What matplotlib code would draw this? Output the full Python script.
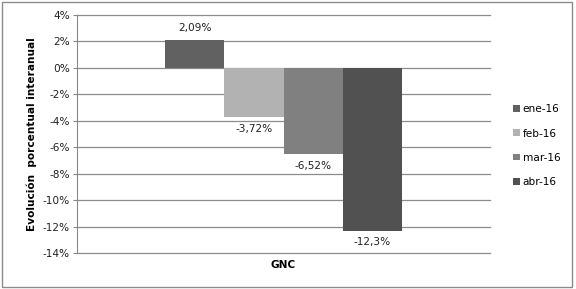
import matplotlib.pyplot as plt
from matplotlib.patches import Rectangle

series = ['ene-16', 'feb-16', 'mar-16', 'abr-16']
values = [2.09, -3.72, -6.52, -12.3]
value_labels = ['2,09%', '-3,72%', '-6,52%', '-12,3%']
colors = ['#616161', '#b2b2b2', '#808080', '#515151']
category = 'GNC'
yticks = [4, 2, 0, -2, -4, -6, -8, -10, -12, -14]

plt.rcParams['font.family'] = ['DejaVu Sans']
fig = plt.figure(figsize=(5.76, 2.89), dpi=100)
ax = fig.add_axes([77 / 576, 1 - 253 / 289, 413 / 576, 238 / 289])

positions = [-1.5, -0.5, 0.5, 1.5]
for pos, v, lab, c, name in zip(positions, values, value_labels, colors, series):
    ax.bar(pos, v, width=1.0, color=c, label=name, zorder=3)
    if v >= 0:
        ax.annotate(lab, (pos, v), xytext=(0, 5), textcoords='offset points',
                    ha='center', va='bottom', fontsize=7.6, color='#222222')
    else:
        ax.annotate(lab, (pos, v), xytext=(0, -5), textcoords='offset points',
                    ha='center', va='top', fontsize=7.6, color='#222222')

ax.set_xlim(-3.485, 3.485)
ax.set_ylim(-14, 4)
ax.set_yticks(yticks)
ax.set_yticklabels([f'{t}%' for t in yticks], fontsize=7.6, color='#222222')
ax.set_xticks([0])
ax.set_xticklabels([category], fontsize=7.6, fontweight='bold')
ax.tick_params(axis='x', length=0, pad=5)
ax.tick_params(axis='y', length=3, color='#888888', pad=2)
# lineas de cuadricula (incluida la de -14%, que queda en el borde)
for t in yticks:
    ax.axhline(t, color='#8c8c8c', linewidth=0.9, zorder=0, clip_on=False)
for side in ['top', 'right', 'bottom']:
    ax.spines[side].set_visible(False)
ax.spines['left'].set_color('#888888')
ax.set_ylabel('Evolución  porcentual interanual', fontsize=7.6, fontweight='bold', labelpad=4)

leg = ax.legend(loc='upper left', bbox_to_anchor=(508 / 576, 1 - 99 / 289),
                bbox_transform=fig.transFigure, frameon=False, fontsize=7.6,
                handlelength=0.6, handleheight=0.6, handletextpad=0.3,
                labelspacing=1.35, borderpad=0)

fig.patches.append(Rectangle((2 / 576, 2 / 289), 570 / 576, 285 / 289,
                             transform=fig.transFigure, fill=False,
                             edgecolor='#8c8c8c', linewidth=1))

fig.savefig('out.png', dpi=100)
